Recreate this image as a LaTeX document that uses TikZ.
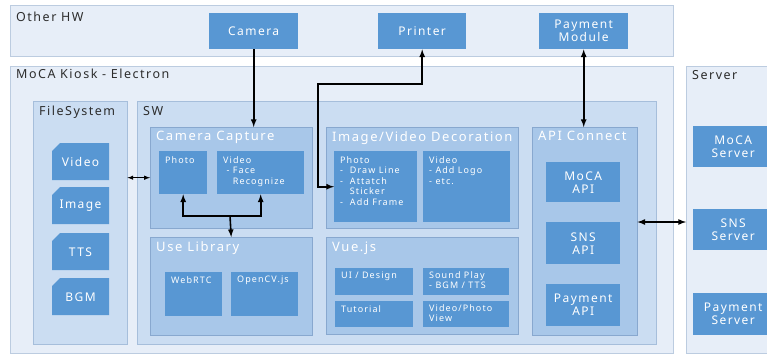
\documentclass[tikz,border=0pt]{standalone}
\usepackage{fontspec}
\setmainfont{Noto Sans}[LetterSpace=12]
\usetikzlibrary{positioning}
\definecolor{hwbg}{RGB}{231,238,248}
\definecolor{hwline}{RGB}{188,204,224}
\definecolor{midbg}{RGB}{203,221,242}
\definecolor{midline}{RGB}{166,190,219}
\definecolor{grpbg}{RGB}{168,199,233}
\definecolor{grpline}{RGB}{136,168,207}
\definecolor{modblue}{RGB}{88,151,211}
\definecolor{headtxt}{RGB}{45,45,45}

\begin{document}
\begin{tikzpicture}[x=1pt,y=-1pt,
 zone/.style={draw=hwline,fill=hwbg,anchor=north west,inner sep=0pt},
 part/.style={draw=midline,fill=midbg,anchor=north west,inner sep=0pt},
 grp/.style={draw=grpline,fill=grpbg,anchor=north west,inner sep=0pt},
 mod/.style={fill=modblue,anchor=north west,inner sep=0pt,text=white,align=center,font=\fontsize{12}{13}\selectfont},
 sub/.style={fill=modblue,anchor=north west,inner sep=0pt},
 tl/.style={anchor=north west,inner sep=0pt,align=left,text=white,font=\fontsize{9}{10.5}\selectfont},
 head/.style={anchor=north west,inner sep=0pt,text=headtxt,font=\fontsize{12.5}{14}\selectfont},
 ghead/.style={anchor=north west,inner sep=0pt,text=white,font=\fontsize{13}{15}\selectfont},
 link/.style={line width=1.6pt,>=latex}]
\useasboundingbox (0,0) rectangle (767,354);
\fill[white] (0,0) rectangle (767,354);
% other hardware
\node[zone,minimum width=663,minimum height=51] (hw) at (10,5) {};
\node[head] (lhw) at (16,12) {Other HW};
\node[mod,minimum width=89,minimum height=36] (cam) at (209,13) {Camera};
\node[mod,minimum width=88,minimum height=36] (prn) at (378,13) {Printer};
\node[mod,minimum width=89,minimum height=36] (pay) at (539,13) {Payment\\Module};
% kiosk
\node[zone,minimum width=663,minimum height=287] (kio) at (10,66) {};
\node[head] (lkio) at (16,69) {MoCA Kiosk - Electron};
\node[part,minimum width=94,minimum height=243] (fs) at (33,101) {};
\node[head] (lfs) at (39,106) {FileSystem};
\foreach \t/\y in {Video/143,Image/187,TTS/233,BGM/278}{
 \fill[modblue] (52,\y+8)--(60,\y)--(109,\y)--(109,\y+37)--(52,\y+37)--cycle;
 \node[text=white,font=\fontsize{12}{13}\selectfont] (f\t) at (80.5,\y+19) {\t};}
\node[part,minimum width=519,minimum height=243] (sw) at (137,101) {};
\node[head] (lsw) at (143,106) {SW};
% camera capture / library
\node[grp,minimum width=162,minimum height=101] (cc) at (150,127) {};
\node[ghead] (lcc) at (156,131) {Camera Capture};
\node[sub,minimum width=48,minimum height=43] (cph) at (159,151) {};
\node[tl] (tcph) at ([shift={(6,5)}]cph.north west) {Photo};
\node[sub,minimum width=87,minimum height=43] (cvd) at (217,151) {};
\node[tl] (tcvd) at ([shift={(6,5)}]cvd.north west) {Video\\\ - Face\\\ \phantom{-} Recognize};
\node[grp,minimum width=162,minimum height=98] (ul) at (150,237) {};
\node[ghead] (lul) at (156,241) {Use Library};
\node[sub,minimum width=57,minimum height=44] (web) at (165,272) {};
\node[tl] (tweb) at ([shift={(6,4)}]web.north west) {WebRTC};
\node[sub,minimum width=67,minimum height=44] (ocv) at (231,272) {};
\node[tl] (tocv) at ([shift={(6,4)}]ocv.north west) {OpenCV.js};
% decoration / vue
\node[grp,minimum width=192,minimum height=101] (dec) at (326,127) {};
\node[ghead] (ldec) at (332,131) {Image/Video Decoration};
\node[sub,minimum width=83,minimum height=71] (dph) at (334,151) {};
\node[tl] (tdph) at ([shift={(6,5)}]dph.north west) {Photo\\-\ \ Draw Line\\-\ \ Attatch\\\phantom{-}\ \ Sticker\\-\ \ Add Frame};
\node[sub,minimum width=87,minimum height=71] (dvd) at (423,151) {};
\node[tl] (tdvd) at ([shift={(6,5)}]dvd.north west) {Video\\- Add Logo\\- etc.};
\node[grp,minimum width=192,minimum height=97] (vue) at (326,237) {};
\node[ghead] (lvue) at (332,242) {Vue.js};
\node[sub,minimum width=78,minimum height=27] (uid) at (335,268) {};
\node[tl] (tuid) at ([shift={(6,4)}]uid.north west) {UI / Design};
\node[sub,minimum width=86,minimum height=27] (snd) at (423,268) {};
\node[tl] (tsnd) at ([shift={(6,3)}]snd.north west) {Sound Play\\ - BGM / TTS};
\node[sub,minimum width=78,minimum height=26] (tut) at (335,301) {};
\node[tl] (ttut) at ([shift={(6,4)}]tut.north west) {Tutorial};
\node[sub,minimum width=86,minimum height=26] (vpv) at (423,301) {};
\node[tl] (tvpv) at ([shift={(6,3)}]vpv.north west) {Video/Photo\\View};
% api
\node[grp,minimum width=105,minimum height=208] (api) at (532,127) {};
\node[ghead] (lapi) at (538,131) {API Connect};
\node[mod,minimum width=74,minimum height=40] (mapi) at (546,162) {MoCA\\API};
\node[mod,minimum width=74,minimum height=42] (sapi) at (546,222) {SNS\\API};
\node[mod,minimum width=74,minimum height=42] (papi) at (546,284) {Payment\\API};
% server
\node[zone,minimum width=90,minimum height=287] (srv) at (686,66) {};
\node[head] (lsrv) at (692,70) {Server};
\node[mod,minimum width=80,minimum height=41] (msrv) at (693,126) {MoCA\\Server};
\node[mod,minimum width=80,minimum height=41] (ssrv) at (693,209) {SNS\\Server};
\node[mod,minimum width=80,minimum height=42] (psrv) at (693,293) {Payment\\Server};
% links
\draw[link,->] (cam.south) -- (cam.south|-cc.north);
\draw[link,<->] (prn.south) |- (318,84) |- (dph.west);
\draw[link,<->] (pay.south) -- (pay.south|-api.north);
\draw[link,<->,line width=1pt] (fs.east|-cc.west) -- (cc.west);
\draw[link,<->] (api.east|-0,222) -- (srv.west|-0,222);
\draw[link,<->] (cph.south) |- (230,216) -| (cvd.south);
\draw[link,->] (230,216) -- (ul.north);
\end{tikzpicture}
\end{document}
